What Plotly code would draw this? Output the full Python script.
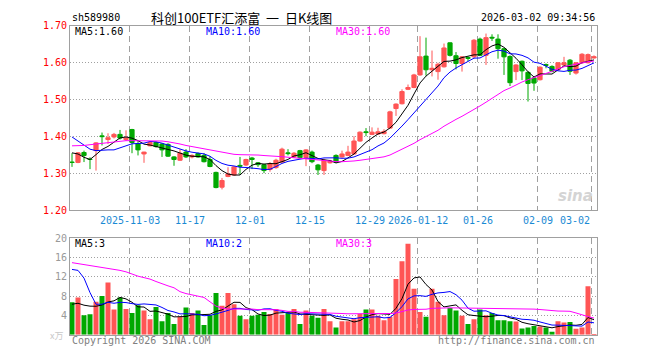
import plotly.graph_objects as go
import pandas as pd

# ---------------- data ----------------
opens = [1.331, 1.330, 1.357, 1.339, 1.362, 1.402, 1.392, 1.399, 1.406, 1.392,
         1.419, 1.381, 1.353, 1.375, 1.384, 1.380, 1.379, 1.345, 1.336, 1.358,
         1.345, 1.354, 1.349, 1.338, 1.303, 1.263, 1.292, 1.296, 1.322, 1.323,
         1.342, 1.329, 1.324, 1.311, 1.316, 1.331, 1.356, 1.345, 1.362, 1.343,
         1.358, 1.323, 1.308, 1.329, 1.349, 1.345, 1.349, 1.353, 1.388, 1.413,
         1.406, 1.407, 1.408, 1.423, 1.476, 1.489, 1.528, 1.533, 1.567, 1.618,
         1.581, 1.576, 1.589, 1.654, 1.619, 1.598, 1.614, 1.616, 1.664, 1.620,
         1.669, 1.664, 1.638, 1.617, 1.576, 1.604, 1.574, 1.559, 1.554, 1.595,
         1.590, 1.581, 1.594, 1.607, 1.572, 1.600, 1.600, 1.613]
highs = [1.355, 1.358, 1.362, 1.344, 1.385, 1.411, 1.409, 1.410, 1.418, 1.417,
         1.421, 1.388, 1.359, 1.386, 1.387, 1.382, 1.382, 1.347, 1.366, 1.366,
         1.352, 1.357, 1.355, 1.347, 1.305, 1.288, 1.317, 1.320, 1.345, 1.340,
         1.345, 1.331, 1.326, 1.331, 1.340, 1.370, 1.366, 1.358, 1.364, 1.366,
         1.362, 1.326, 1.340, 1.337, 1.352, 1.362, 1.375, 1.401, 1.414, 1.423,
         1.425, 1.424, 1.420, 1.470, 1.490, 1.528, 1.541, 1.570, 1.672, 1.668,
         1.633, 1.600, 1.652, 1.655, 1.629, 1.618, 1.617, 1.664, 1.668, 1.679,
         1.677, 1.677, 1.640, 1.620, 1.596, 1.606, 1.577, 1.562, 1.590, 1.598,
         1.593, 1.602, 1.616, 1.610, 1.602, 1.626, 1.625, 1.620]
lows = [1.318, 1.328, 1.331, 1.312, 1.308, 1.376, 1.380, 1.395, 1.392, 1.388,
        1.355, 1.349, 1.329, 1.374, 1.370, 1.345, 1.345, 1.321, 1.334, 1.342,
        1.341, 1.343, 1.330, 1.317, 1.260, 1.257, 1.290, 1.294, 1.296, 1.320,
        1.312, 1.318, 1.301, 1.305, 1.313, 1.329, 1.349, 1.342, 1.340, 1.320,
        1.328, 1.296, 1.296, 1.327, 1.329, 1.343, 1.347, 1.351, 1.386, 1.401,
        1.404, 1.405, 1.406, 1.421, 1.456, 1.487, 1.526, 1.531, 1.565, 1.565,
        1.563, 1.554, 1.587, 1.617, 1.582, 1.576, 1.604, 1.612, 1.618, 1.594,
        1.659, 1.611, 1.567, 1.537, 1.553, 1.553, 1.495, 1.524, 1.552, 1.585,
        1.574, 1.578, 1.592, 1.567, 1.568, 1.598, 1.598, 1.611]
closes = [1.330, 1.356, 1.349, 1.338, 1.383, 1.400, 1.397, 1.406, 1.396, 1.396,
          1.384, 1.364, 1.358, 1.384, 1.373, 1.364, 1.347, 1.338, 1.355, 1.345,
          1.349, 1.345, 1.332, 1.319, 1.262, 1.281, 1.299, 1.318, 1.320, 1.338,
          1.338, 1.324, 1.308, 1.327, 1.336, 1.366, 1.354, 1.355, 1.343, 1.364,
          1.332, 1.310, 1.336, 1.334, 1.331, 1.353, 1.358, 1.388, 1.412, 1.411,
          1.412, 1.413, 1.414, 1.467, 1.488, 1.522, 1.533, 1.567, 1.616, 1.581,
          1.585, 1.596, 1.640, 1.620, 1.598, 1.616, 1.612, 1.661, 1.620, 1.668,
          1.667, 1.638, 1.616, 1.546, 1.594, 1.578, 1.544, 1.545, 1.588, 1.593,
          1.577, 1.600, 1.600, 1.577, 1.600, 1.623, 1.622, 1.616]
volumes = [6.7, 7.7, 4.0, 4.2, 6.8, 8.0, 10.8, 5.2, 7.7, 5.3,
           4.5, 6.1, 5.0, 3.2, 5.7, 2.8, 4.5, 2.2, 3.7, 5.6,
           4.5, 5.0, 2.0, 4.0, 8.6, 6.0, 8.6, 6.3, 3.9, 3.2,
           3.9, 4.1, 4.7, 4.3, 5.3, 4.1, 4.5, 5.3, 2.2, 5.0,
           3.9, 3.5, 5.3, 2.8, 1.5, 2.8, 2.8, 3.2, 4.3, 5.2,
           5.2, 3.9, 3.0, 3.7, 11.5, 15.2, 18.8, 9.5, 4.7, 3.7,
           9.5, 6.8, 4.0, 5.5, 5.0, 3.9, 2.2, 3.2, 5.2, 4.0,
           4.5, 3.0, 3.0, 2.8, 2.7, 1.3, 1.5, 1.8, 1.7, 1.5,
           0.6, 2.8, 2.5, 2.6, 1.2, 1.5, 10.0, 0.13]

# moving-average values at the left edge (window reaches before the visible data)
ma5_head = [1.356, 1.353, 1.344, 1.338]
ma10_head = [1.399, 1.388, 1.377, 1.366, 1.362, 1.364, 1.364, 1.364, 1.369]
ma30_head = [1.375, 1.375, 1.376, 1.378, 1.380, 1.381, 1.383, 1.386, 1.388, 1.389,
             1.389, 1.389, 1.389, 1.389, 1.389, 1.388, 1.386, 1.384, 1.380, 1.376,
             1.373, 1.369, 1.366, 1.362, 1.359, 1.356, 1.354, 1.352, 1.351]
vma5_head = [6.3, 6.5, 6.1, 5.9]
vma10_head = [13.5, 13.3, 11.7, 8.7, 6.3, 6.3, 6.7, 6.5, 6.7]
vma30_head = [14.9, 14.7, 14.5, 14.3, 14.2, 14.0, 13.7, 13.5, 13.3, 13.0,
              12.5, 12.1, 11.8, 11.5, 11.0, 10.5, 10.1, 9.7, 8.9, 8.5,
              8.2, 8.0, 7.7, 6.8, 5.9, 5.5, 5.3, 5.3, 5.3]

# date ticks: (trading-day index, label)
tick_index = [10, 20, 30, 40, 50, 58, 68, 78, 87]
tick_labels = ["2025-11-03", "11-17", "12-01", "12-15", "12-29",
               "2026-01-12", "01-26", "02-09", "03-02"]
price_ticks = [1.20, 1.30, 1.40, 1.50, 1.60, 1.70]
vol_ticks = [4, 8, 12, 16, 20]
price_legend = ["MA5:1.60", "MA10:1.60", "MA30:1.60"]
vol_legend = ["MA5:3", "MA10:2", "MA30:3"]

# ---------------- styling ----------------
W, H = 660, 360
RED = "#ff5555"
GREEN = "#00a800"
GRID = "#a0a0a0"
MONO = "DejaVu Sans Mono"
L, R = 70, 597
P_TOP, P_BOT = 20.5, 211.5
V_TOP, V_BOT = 240, 340


def px(y):
    return 1 - y / H


def ma(values, window, head):
    s = pd.Series(values).rolling(window).mean().tolist()
    return list(head) + s[window - 1:]


n = len(closes)
idx = list(range(n))
grid_x = [i - 0.35 for i in tick_index]
bar_colors = [RED if c >= o else GREEN for o, c in zip(opens, closes)]

fig = go.Figure()
fig.add_trace(go.Candlestick(
    x=idx, open=opens, high=highs, low=lows, close=closes,
    xaxis="x", yaxis="y", whiskerwidth=0, hoverinfo="skip",
    increasing=dict(line=dict(color=RED, width=1), fillcolor=RED),
    decreasing=dict(line=dict(color=GREEN, width=1), fillcolor=GREEN),
))
for vals, win, head, col in [(closes, 5, ma5_head, "black"),
                             (closes, 10, ma10_head, "#0000ff"),
                             (closes, 30, ma30_head, "#ff00ff")]:
    fig.add_trace(go.Scatter(x=idx, y=ma(vals, win, head), mode="lines",
                             line=dict(color=col, width=1), xaxis="x", yaxis="y",
                             hoverinfo="skip"))

fig.add_trace(go.Bar(x=idx, y=volumes, marker=dict(color=bar_colors, line=dict(width=0)),
                     xaxis="x2", yaxis="y2", hoverinfo="skip"))
for vals, win, head, col in [(volumes, 5, vma5_head, "black"),
                             (volumes, 10, vma10_head, "#0000ff"),
                             (volumes, 30, vma30_head, "#ff00ff")]:
    fig.add_trace(go.Scatter(x=idx, y=ma(vals, win, head), mode="lines",
                             line=dict(color=col, width=1), xaxis="x2", yaxis="y2",
                             hoverinfo="skip"))

xcommon = dict(domain=[L / W, R / W], range=[-1 / 3, n - 0.5], tickvals=grid_x,
               showticklabels=False, ticks="", showgrid=True, gridcolor=GRID,
               griddash="6px,4px", gridwidth=1, showline=True, linecolor=GRID,
               linewidth=1, mirror=True, zeroline=False, fixedrange=True)

fig.update_layout(
    width=W, height=H, margin=dict(l=0, r=0, t=0, b=0),
    paper_bgcolor="white", plot_bgcolor="white", showlegend=False,
    boxgap=0.3, boxgroupgap=0, bargap=1 / 6,
    xaxis=dict(anchor="y", rangeslider=dict(visible=False), **xcommon),
    xaxis2=dict(anchor="y2", **xcommon),
    yaxis=dict(domain=[px(P_BOT), px(P_TOP)], range=[1.2, 1.7], tickvals=price_ticks,
               ticktext=["%.2f" % v for v in price_ticks],
               tickfont=dict(family=MONO, size=10, color="#ff0000"),
               ticks="", showgrid=True, gridcolor=GRID, griddash="1px,2px",
               showline=True, linecolor=GRID, mirror=True, zeroline=False,
               fixedrange=True),
    yaxis2=dict(domain=[px(V_BOT), px(V_TOP)], range=[0, 20], tickvals=vol_ticks,
                tickfont=dict(family=MONO, size=10, color="#999999"),
                ticks="", showgrid=True, gridcolor=GRID, griddash="1px,2px",
                showline=True, linecolor=GRID, mirror=True, zeroline=False,
                fixedrange=True),
)

ann = []
# date labels under the price panel
for gx, lab, i in zip(grid_x, tick_labels, range(len(tick_labels))):
    last = i == len(tick_labels) - 1
    ann.append(dict(x=gx, xref="x", y=px(222), yref="paper", text=lab, showarrow=False,
                    xanchor="right" if last else "center", yanchor="middle",
                    font=dict(family=MONO, size=10, color="#1a8ad4")))
# legends
leg_x = [73, 204, 334]
leg_col = ["black", "#0000ff", "#ff00ff"]
for x, t, c in zip(leg_x, price_legend, leg_col):
    ann.append(dict(x=x / W, y=px(26), xref="paper", yref="paper", text=t, showarrow=False,
                    xanchor="left", yanchor="middle", font=dict(family=MONO, size=10, color=c)))
for x, t, c in zip(leg_x, vol_legend, leg_col):
    ann.append(dict(x=x / W, y=px(246), xref="paper", yref="paper", text=t, showarrow=False,
                    xanchor="left", yanchor="middle", font=dict(family=MONO, size=10, color=c)))
# header
ann.append(dict(x=L / W, y=px(12), xref="paper", yref="paper", text="sh589980", showarrow=False,
                xanchor="left", yanchor="middle", font=dict(family=MONO, size=10, color="black")))
ann.append(dict(x=149 / W, y=px(12), xref="paper", yref="paper",
                text="科创100ETF汇添富\u00a0\u00a0一\u00a0\u00a0日K线图",
                showarrow=False, xanchor="left", yanchor="middle",
                font=dict(family="Noto Sans CJK SC", size=13, color="black")))
ann.append(dict(x=R / W, y=px(12), xref="paper", yref="paper", text="2026-03-02 09:34:56",
                showarrow=False, xanchor="right", yanchor="middle",
                font=dict(family=MONO, size=10, color="black")))
# footer
ann.append(dict(x=L / W, y=px(346), xref="paper", yref="paper", text="Copyright 2026 SINA.COM",
                showarrow=False, xanchor="left", yanchor="middle",
                font=dict(family=MONO, size=10, color="#808080")))
ann.append(dict(x=R / W, y=px(346), xref="paper", yref="paper", text="http://finance.sina.com.cn",
                showarrow=False, xanchor="right", yanchor="middle",
                font=dict(family=MONO, size=10, color="#808080")))
ann.append(dict(x=65 / W, y=px(341), xref="paper", yref="paper", text="x万",
                showarrow=False, xanchor="right", yanchor="middle",
                font=dict(family="Noto Sans CJK SC", size=9, color="#c8c8c8")))
# watermark
ann.append(dict(x=595 / W, y=px(197), xref="paper", yref="paper", text="<b><i>sina</i></b>",
                showarrow=False, xanchor="right", yanchor="middle",
                font=dict(family="DejaVu Sans", size=15, color="#d4d4d4")))
fig.update_layout(annotations=ann)

fig.write_html("out.html", config={"displayModeBar": False},
               post_script="document.body.style.margin='0';")
